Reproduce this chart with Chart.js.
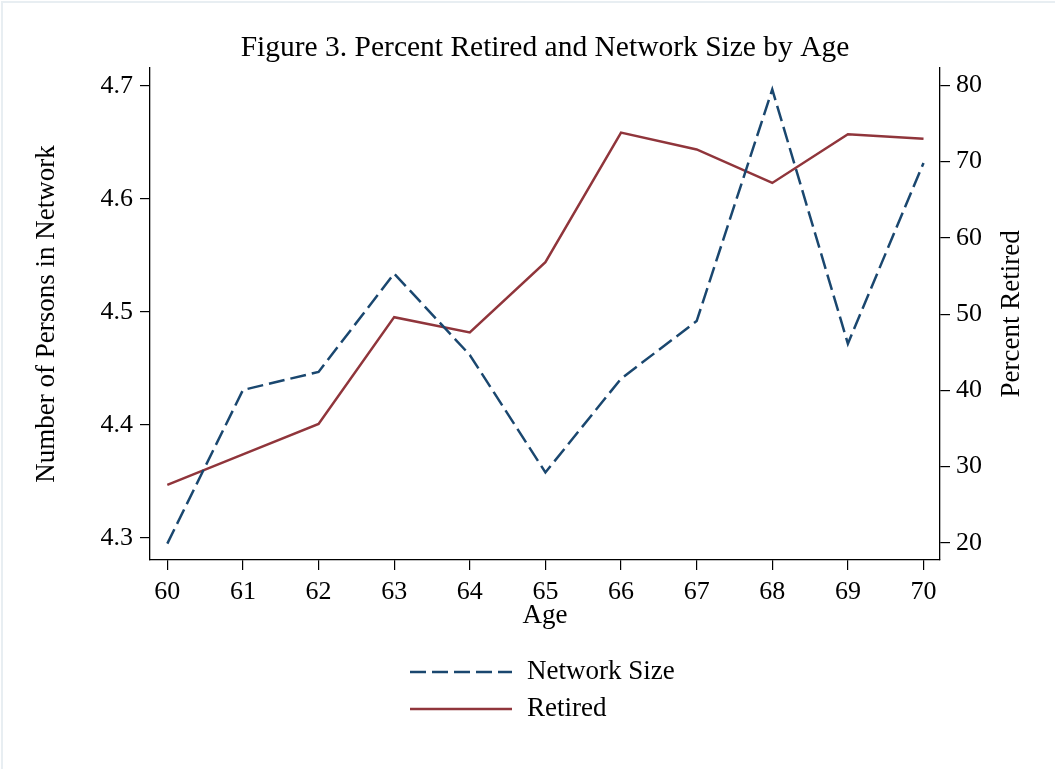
<!DOCTYPE html>
<html>
<head>
<meta charset="utf-8">
<script src="https://cdn.jsdelivr.net/npm/chart.js@4.4.1/dist/chart.umd.min.js"></script>
<style>
  html, body { margin: 0; padding: 0; background: #fff; }
  #wrap { position: relative; width: 1055px; height: 769px; }
  #frame { position: absolute; left: 1px; top: 1px; right: 0; bottom: 0;
           border-left: 2px solid #e8eef2; border-top: 2px solid #e8eef2; pointer-events: none; }
</style>
</head>
<body>
<div id="wrap">
  <canvas id="chart" width="1055" height="769"></canvas>
  <div id="frame"></div>
</div>
<script>
// --- dati ---
const ages = [60, 61, 62, 63, 64, 65, 66, 67, 68, 69, 70];
const networkSize = [4.295, 4.431, 4.447, 4.534, 4.462, 4.358, 4.441, 4.492, 4.697, 4.472, 4.632];
const pctRetired = [27.6, 31.6, 35.6, 49.6, 47.6, 56.8, 73.8, 71.6, 67.2, 73.6, 73.0];
const leftTicks = [4.3, 4.4, 4.5, 4.6, 4.7];
const rightTicks = [20, 30, 40, 50, 60, 70, 80];

const FONT = "'Liberation Serif', 'Times New Roman', serif";
const NAVY = '#1a476f';
const MAROON = '#90353b';

// legenda su due righe e titolo destro ruotato come nell'originale
const extras = {
  id: 'extras',
  afterDraw(chart) {
    const ctx = chart.ctx;
    const area = chart.chartArea;
    ctx.save();
    ctx.fillStyle = '#000';
    ctx.font = '27px ' + FONT;
    ctx.textBaseline = 'middle';

    // titolo asse destro (letto dal basso verso l'alto)
    ctx.save();
    ctx.translate(1012, (area.top + area.bottom) / 2);
    ctx.rotate(-Math.PI / 2);
    ctx.textAlign = 'center';
    ctx.fillText('Percent Retired', 0, 0);
    ctx.restore();

    // legenda
    chart.data.datasets.forEach((ds, i) => {
      const y = 672 + i * 37;
      ctx.save();
      ctx.strokeStyle = ds.borderColor;
      ctx.lineWidth = ds.borderWidth;
      ctx.setLineDash(ds.borderDash || []);
      ctx.beginPath();
      ctx.moveTo(410, y);
      ctx.lineTo(512, y);
      ctx.stroke();
      ctx.restore();
      ctx.textAlign = 'left';
      ctx.fillText(ds.label, 527, y);
    });
    ctx.restore();
  }
};

const axisGrid = { drawOnChartArea: false, drawTicks: true, tickLength: 10, color: '#000', lineWidth: 1.2 };
const axisBorder = { display: true, color: '#000', width: 1.3 };
const tickFont = { family: FONT, size: 26 };
const titleFont = { family: FONT, size: 27 };

new Chart(document.getElementById('chart'), {
  type: 'line',
  data: {
    datasets: [
      {
        label: 'Network Size',
        data: ages.map((a, i) => ({ x: a, y: networkSize[i] })),
        yAxisID: 'yL',
        borderColor: NAVY,
        backgroundColor: NAVY,
        borderWidth: 2.5,
        borderDash: [16, 6],
        pointRadius: 0,
        tension: 0
      },
      {
        label: 'Retired',
        data: ages.map((a, i) => ({ x: a, y: pctRetired[i] })),
        yAxisID: 'yR',
        borderColor: MAROON,
        backgroundColor: MAROON,
        borderWidth: 2.5,
        pointRadius: 0,
        tension: 0
      }
    ]
  },
  options: {
    responsive: false,
    animation: false,
    layout: { padding: { left: 0, right: 0, top: 0, bottom: 134 } },
    plugins: {
      legend: { display: false },
      tooltip: { enabled: false },
      title: {
        display: true,
        fullSize: false,
        text: 'Figure 3. Percent Retired and Network Size by Age',
        color: '#000',
        font: { family: FONT, size: 29.5, weight: 'normal' },
        padding: { top: 30.5, bottom: 2 }
      }
    },
    scales: {
      x: {
        type: 'linear',
        position: 'bottom',
        min: 59.771,
        max: 70.218,
        afterBuildTicks: s => { s.ticks = ages.map(v => ({ value: v })); },
        afterFit: s => { s.height = 75; },
        grid: axisGrid,
        border: axisBorder,
        ticks: { font: tickFont, color: '#000', padding: 7, maxRotation: 0, autoSkip: false },
        title: { display: true, text: 'Age', color: '#000', font: titleFont, padding: { top: 0, bottom: 3 } }
      },
      yL: {
        type: 'linear',
        position: 'left',
        min: 4.2805,
        max: 4.7161,
        afterBuildTicks: s => { s.ticks = leftTicks.map(v => ({ value: v })); },
        afterFit: s => { s.width = 150; },
        grid: axisGrid,
        border: axisBorder,
        ticks: { font: tickFont, color: '#000', padding: 7, callback: v => v.toFixed(1) },
        title: { display: true, text: 'Number of Persons in Network', color: '#000', font: titleFont, padding: { top: 30.5, bottom: 0 } }
      },
      yR: {
        type: 'linear',
        position: 'right',
        min: 17.75,
        max: 82.29,
        afterBuildTicks: s => { s.ticks = rightTicks.map(v => ({ value: v })); },
        afterFit: s => { s.width = 115; },
        grid: axisGrid,
        border: axisBorder,
        ticks: { font: tickFont, color: '#000', padding: 6 }
      }
    }
  },
  plugins: [extras]
});
</script>
</body>
</html>
